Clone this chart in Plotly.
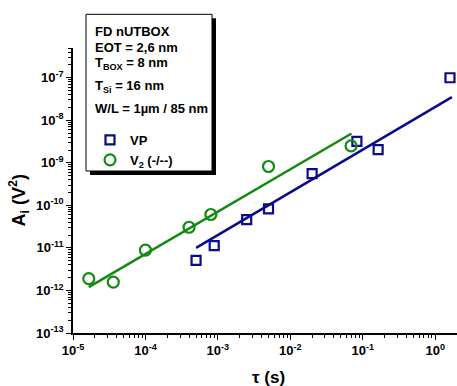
import numpy as np
import plotly.graph_objects as go

# ---- data ----
vp_tau = [5.0e-4, 8.9e-4, 2.5e-3, 5.0e-3, 2.0e-2, 8.3e-2, 1.63e-1, 1.6]
vp_A = [5.1e-12, 1.13e-11, 4.6e-11, 8.3e-11, 5.6e-10, 3.2e-9, 2.05e-9, 1.0e-7]
v2_tau = [1.65e-5, 3.6e-5, 1.0e-4, 4.0e-4, 8.0e-4, 5.0e-3, 6.9e-2]
v2_A = [1.9e-12, 1.57e-12, 8.9e-12, 3.06e-11, 6.1e-11, 8.2e-10, 2.5e-9]
vp_fit_tau = [5.0e-4, 1.7]
vp_fit_A = [1.0e-11, 3.5e-8]
v2_fit_tau = [1.65e-5, 7.0e-2]
v2_fit_A = [1.2e-12, 4.9e-9]

x_major = [1e-5, 1e-4, 1e-3, 1e-2, 1e-1, 1e0]
x_major_text = ["10<sup>-5</sup>", "10<sup>-4</sup>", "10<sup>-3</sup>", "10<sup>-2</sup>", "10<sup>-1</sup>", "10<sup>0</sup>"]
y_major = [1e-13, 1e-12, 1e-11, 1e-10, 1e-9, 1e-8, 1e-7]
y_major_text = ["10<sup>-13</sup>", "10<sup>-12</sup>", "10<sup>-11</sup>", "10<sup>-10</sup>", "10<sup>-9</sup>", "10<sup>-8</sup>", "10<sup>-7</sup>"]

info_lines = ["FD nUTBOX", "EOT = 2,6 nm", "T<sub>BOX</sub> = 8 nm", "T<sub>Si</sub> = 16 nm", "W/L = 1µm / 85 nm"]

NAVY = "#0a0a8a"
GREEN = "#128a12"
FONT = "Liberation Sans, Arial, sans-serif"

W, H = 457, 386
L, R, T, B = 73, 0, 48, 53
pw, ph = W - L - R, H - T - B

def px(x):
    return (x - L) / pw

def py(y):
    return (H - B - y) / ph

def minors(lo, hi):
    v = []
    for k in range(lo, hi + 1):
        for d in range(2, 10):
            v.append(d * 10.0 ** k)
    return v

fig = go.Figure()
fig.add_trace(go.Scatter(x=v2_fit_tau, y=v2_fit_A, mode="lines", line=dict(color=GREEN, width=2.5), showlegend=False))
fig.add_trace(go.Scatter(x=vp_fit_tau, y=vp_fit_A, mode="lines", line=dict(color=NAVY, width=2.5), showlegend=False))
fig.add_trace(go.Scatter(x=vp_tau, y=vp_A, mode="markers", name="<b>VP</b>",
                         marker=dict(symbol="square-open", size=9, color=NAVY, line=dict(width=2.2, color=NAVY))))
fig.add_trace(go.Scatter(x=v2_tau, y=v2_A, mode="markers", name="<b>V<sub>2</sub> (-/--)</b>",
                         marker=dict(symbol="circle-open", size=11, color=GREEN, line=dict(width=2.2, color=GREEN))))

# info box with shadow
sx, sy = 4 / pw, 4 / ph
fig.add_shape(type="rect", xref="paper", yref="paper", x0=px(86) + sx, x1=px(212) + sx, y0=py(171) - sy, y1=py(14.3) - sy,
              fillcolor="black", line=dict(width=0), layer="below")
fig.add_shape(type="rect", xref="paper", yref="paper", x0=px(86), x1=px(212), y0=py(171), y1=py(14.3),
              fillcolor="white", line=dict(color="black", width=1), layer="below")

ys = [31, 47.8, 64, 86, 108.3]
for txt, yy in zip(info_lines, ys):
    fig.add_annotation(text="<b>" + txt + "</b>", xref="paper", yref="paper", x=px(92.5), y=py(yy),
                       xanchor="left", yanchor="middle", showarrow=False, font=dict(family=FONT, size=13, color="black"))

fig.add_annotation(text="<b>A<sub>i</sub> (V<sup>2</sup>)</b>", xref="paper", yref="paper", x=px(18.5), y=py(200),
                   textangle=-90, xanchor="center", yanchor="middle", showarrow=False,
                   font=dict(family=FONT, size=18, color="black"))
fig.add_annotation(text="<b>τ (s)</b>", xref="paper", yref="paper", x=px(268), y=py(377),
                   xanchor="center", yanchor="middle", showarrow=False,
                   font=dict(family=FONT, size=17, color="black"))

fig.update_xaxes(type="log", range=[-5, np.log10(2)], showgrid=False, zeroline=False,
                 showline=True, linecolor="black", linewidth=1.5,
                 tickmode="array", tickvals=x_major, ticktext=["<b>" + t + "</b>" for t in x_major_text],
                 ticks="outside", ticklen=5, tickwidth=1.3, tickcolor="black",
                 tickfont=dict(family=FONT, size=13, color="black"),
                 minor=dict(tickmode="array", tickvals=minors(-5, 0), ticks="outside", ticklen=3, tickwidth=1, tickcolor="black", showgrid=False))
fig.update_yaxes(type="log", range=[-13, np.log10(5e-7)], showgrid=False, zeroline=False,
                 showline=True, linecolor="black", linewidth=1.5,
                 tickmode="array", tickvals=y_major, ticktext=["<b>" + t + "</b>" for t in y_major_text],
                 ticks="outside", ticklen=5, tickwidth=1.3, tickcolor="black",
                 tickfont=dict(family=FONT, size=13, color="black"),
                 minor=dict(tickmode="array", tickvals=minors(-13, -7), ticks="outside", ticklen=3, tickwidth=1, tickcolor="black", showgrid=False))

fig.update_layout(width=W, height=H, margin=dict(l=L, r=R, t=T, b=B, autoexpand=False),
                  paper_bgcolor="white", plot_bgcolor="white",
                  font=dict(family=FONT, size=13, color="black"),
                  legend=dict(x=px(90), y=py(125), xanchor="left", yanchor="top", bgcolor="rgba(0,0,0,0)",
                              font=dict(family=FONT, size=13, color="black"), tracegroupgap=0, itemwidth=30))

fig.write_html("out.html", config={"displayModeBar": False},
               post_script="document.body.style.margin='0';document.body.style.padding='0';")
